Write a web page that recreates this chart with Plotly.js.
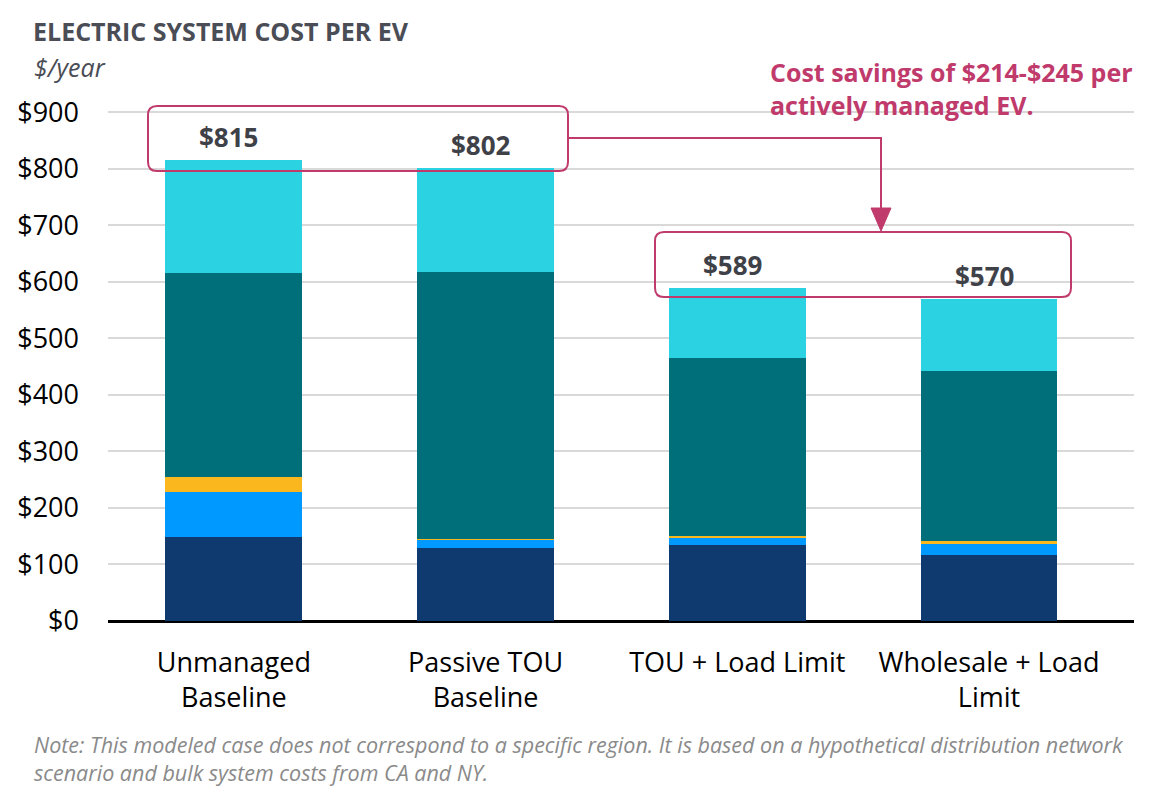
<!DOCTYPE html>
<html>
<head>
<meta charset="utf-8">
<script src="https://cdn.plot.ly/plotly-3.0.1.min.js"></script>
<style>
  html, body { margin: 0; padding: 0; background: #fff; }
  #canvas { width: 1168px; height: 799px; }
</style>
</head>
<body>
<div id="canvas"></div>
<script>
// Electric system cost per EV ($/year), stacked components
var categories = ["Unmanaged<br>Baseline", "Passive TOU<br>Baseline", "TOU + Load Limit", "Wholesale + Load<br>Limit"];
var navyValues = [148, 130, 134, 117];
var blueValues = [81, 14, 14, 19];
var yellowValues = [25, 1, 3, 5];
var tealValues = [361, 473, 314, 301];
var cyanValues = [200, 184, 124, 128];
var yTicks = [0, 100, 200, 300, 400, 500, 600, 700, 800, 900];

var colors = ['#0e3a6f', '#0099ff', '#fbb81e', '#006f7a', '#2ad2e2'];
var series = [navyValues, blueValues, yellowValues, tealValues, cyanValues];
var pink = '#c03a6c';

var data = series.map(function (vals, i) {
  return {
    x: categories,
    y: vals,
    type: 'bar',
    name: 'Component ' + (i + 1),
    marker: { color: colors[i], line: { width: 0 } },
    hovertemplate: '$%{y}<extra></extra>'
  };
});

var totals = categories.map(function (c, i) {
  return series.reduce(function (s, vals) { return s + vals[i]; }, 0);
});

// layout geometry (pixels) used to place the decorations
var W = 1168, H = 799;
var mL = 108, mR = 34, mT = 98, mB = 178;
var xRange = [-0.5, 3.576], yRange = [0, 925];
var plotW = W - mL - mR, plotH = H - mT - mB;
function px(x) { return (x - mL) / plotW; }
function py(y) { return (H - mB - y) / plotH; }

function roundRect(x0, x1, y0, y1, rx, ry) {
  return 'M' + (x0 + rx) + ',' + y1 +
    ' L' + (x1 - rx) + ',' + y1 + ' Q' + x1 + ',' + y1 + ' ' + x1 + ',' + (y1 - ry) +
    ' L' + x1 + ',' + (y0 + ry) + ' Q' + x1 + ',' + y0 + ' ' + (x1 - rx) + ',' + y0 +
    ' L' + (x0 + rx) + ',' + y0 + ' Q' + x0 + ',' + y0 + ' ' + x0 + ',' + (y0 + ry) +
    ' L' + x0 + ',' + (y1 - ry) + ' Q' + x0 + ',' + y1 + ' ' + (x0 + rx) + ',' + y1 + ' Z';
}

var rx = 9 / plotW, ry = 9 / plotH;
var box1 = [px(148), px(568), py(171), py(106)];
var box2 = [px(655), px(1071), py(297), py(232)];
var arrowX = px(881), arrowY = py(138), headTop = py(208), headTip = py(231);

var shapes = [
  { type: 'path', xref: 'paper', yref: 'paper', path: roundRect(box1[0], box1[1], box1[2], box1[3], rx, ry),
    line: { color: pink, width: 2 }, layer: 'above' },
  { type: 'path', xref: 'paper', yref: 'paper', path: roundRect(box2[0], box2[1], box2[2], box2[3], rx, ry),
    line: { color: pink, width: 2 }, layer: 'above' },
  { type: 'path', xref: 'paper', yref: 'paper',
    path: 'M' + box1[1] + ',' + arrowY + ' L' + arrowX + ',' + arrowY + ' L' + arrowX + ',' + headTop,
    line: { color: pink, width: 2 } },
  { type: 'path', xref: 'paper', yref: 'paper',
    path: 'M' + (arrowX - 10 / plotW) + ',' + headTop + ' L' + (arrowX + 10 / plotW) + ',' + headTop +
      ' L' + arrowX + ',' + headTip + ' Z',
    fillcolor: pink, line: { color: pink, width: 1 } }
];

var annotations = totals.map(function (t, i) {
  return {
    x: categories[i], y: t, xref: 'x', yref: 'y',
    text: '<b>$' + t + '</b>', showarrow: false,
    yanchor: 'bottom', yshift: 3, xshift: -5,
    font: { family: 'Open Sans', size: 26, color: '#3f4148' }
  };
});

annotations.push(
  { xref: 'paper', yref: 'paper', x: px(32), y: py(67), xanchor: 'left', yanchor: 'middle',
    text: '<i>$/year</i>', showarrow: false,
    font: { family: 'Open Sans', size: 25, color: '#4a4d55' } },
  { xref: 'paper', yref: 'paper', x: px(768), y: py(89), xanchor: 'left', yanchor: 'middle', align: 'left',
    text: '<b>Cost savings of $214-$245 per<br>actively managed EV.</b>', showarrow: false,
    font: { family: 'Open Sans', size: 25, color: pink } },
  { xref: 'paper', yref: 'paper', x: px(32), y: py(759), xanchor: 'left', yanchor: 'middle', align: 'left',
    text: '<i>Note: This modeled case does not correspond to a specific region. It is based on a hypothetical distribution network<br>scenario and bulk system costs from CA and NY.</i>',
    showarrow: false,
    font: { family: 'Open Sans', size: 21.5, color: '#8a8a8a' } }
);

var layout = {
  width: W,
  height: H,
  margin: { l: mL, r: mR, t: mT, b: mB },
  paper_bgcolor: '#ffffff',
  plot_bgcolor: '#ffffff',
  barmode: 'stack',
  bargap: 0.456,
  showlegend: false,
  hovermode: 'closest',
  title: {
    text: '<b>ELECTRIC SYSTEM COST PER EV</b>',
    xref: 'container', yref: 'container',
    x: 33 / W, xanchor: 'left',
    y: 1 - 32 / H, yanchor: 'middle',
    font: { family: 'Open Sans', size: 25, color: '#4a4d55' }
  },
  xaxis: {
    type: 'category',
    range: xRange,
    showgrid: false,
    showline: false,
    ticks: '',
    ticklabelstandoff: 23,
    tickfont: { family: 'Open Sans', size: 27, color: '#000000' }
  },
  yaxis: {
    range: yRange,
    tickvals: yTicks,
    ticktext: yTicks.map(function (v) { return '$' + v; }),
    showgrid: true,
    gridcolor: '#d9d9d9',
    gridwidth: 2,
    zeroline: true,
    zerolinecolor: '#000000',
    zerolinewidth: 3,
    showline: false,
    ticks: '',
    ticklabelstandoff: 28,
    tickfont: { family: 'Open Sans', size: 27, color: '#000000' }
  },
  shapes: shapes,
  annotations: annotations
};

Plotly.newPlot('canvas', data, layout, { displayModeBar: false });
</script>
</body>
</html>
